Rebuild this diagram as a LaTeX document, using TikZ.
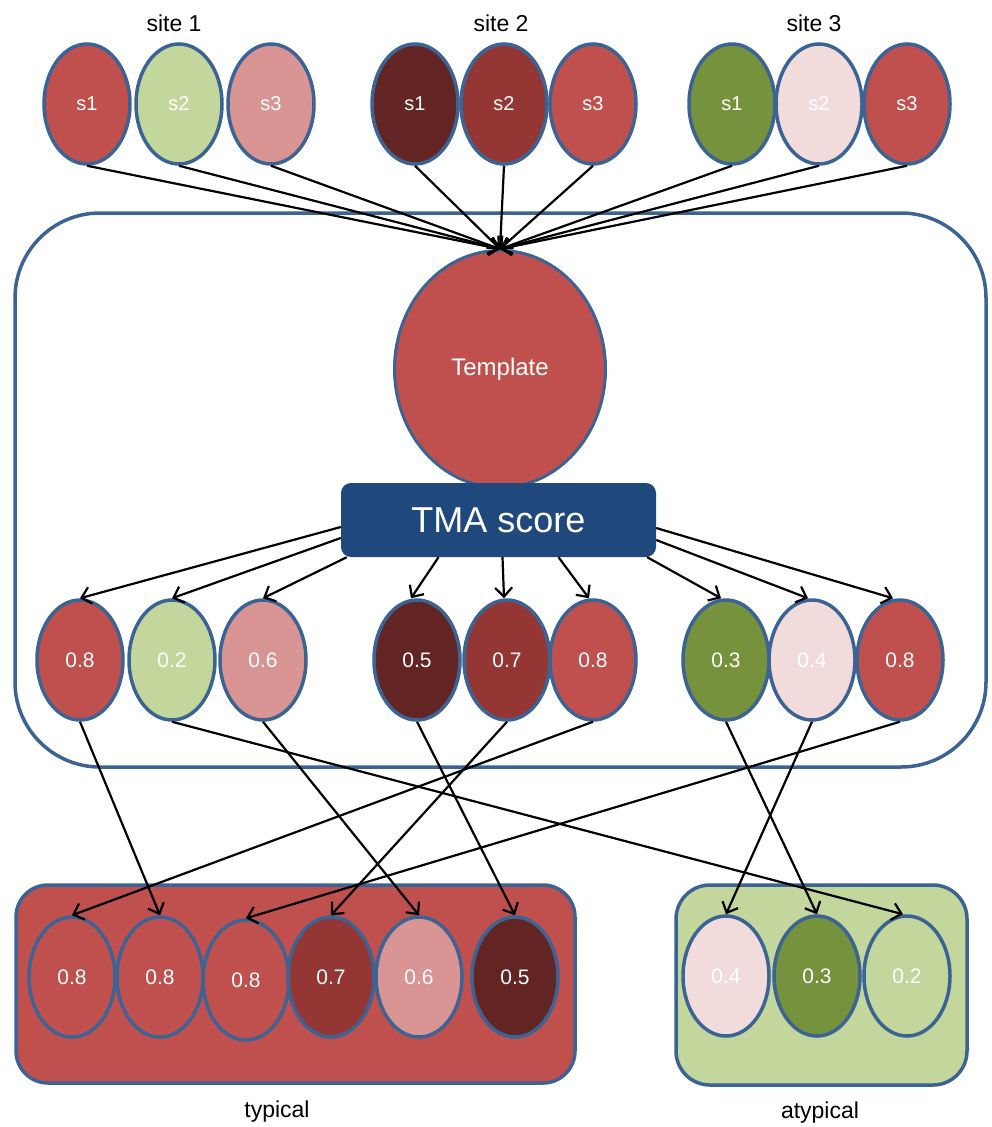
\documentclass[tikz,border=0pt]{standalone}
\usepackage{fontspec}
\setmainfont{Liberation Sans}
\usetikzlibrary{shapes.geometric,arrows.meta,calc}
\definecolor{cRed}{HTML}{C0504D}
\definecolor{cLGreen}{HTML}{C3D69B}
\definecolor{cPink}{HTML}{D99594}
\definecolor{cDRed}{HTML}{632523}
\definecolor{cMRed}{HTML}{943634}
\definecolor{cOlive}{HTML}{76923C}
\definecolor{cLPink}{HTML}{F2DCDB}
\definecolor{cBorder}{HTML}{3B6394}
\definecolor{cNavy}{HTML}{1F497D}
\begin{document}
\begin{tikzpicture}[x=1pt,y=-1pt,
  ell/.style={ellipse, draw=cBorder, line width=3.5pt, minimum width=86pt, minimum height=120pt,
    inner sep=0pt, text=white, font=\fontsize{20}{20}\selectfont},
  num/.style={ell, font=\fontsize{21}{21}\selectfont},
  conn/.style={line width=2.2pt, -{Straight Barb[length=9pt,width=17pt,line width=2.2pt]}},
  group/.style={draw=cBorder, line width=3.5pt},
  lbl/.style={font=\fontsize{23}{23}\selectfont, text=black, inner sep=0pt}
]
\useasboundingbox (0,0) rectangle (992,1127);

% site labels
\node[lbl] (l1) at (174,23) {site 1};
\node[lbl] (l2) at (501,23) {site 2};
\node[lbl] (l3) at (814,23) {site 3};

% big container
\draw[group, rounded corners=85pt] (15,213) rectangle (986,767);

% bottom group boxes
\draw[group, fill=cRed, rounded corners=32pt] (16,885) rectangle (575,1083);
\draw[group, fill=cLGreen, rounded corners=34pt] (676,885) rectangle (967,1085);
\node[lbl] (lt) at (277,1112) {typical};
\node[lbl] (la) at (820,1113) {atypical};

% top ellipses
\node[ell, fill=cRed]    (a1) at (87,104)  {s1};
\node[ell, fill=cLGreen] (a2) at (179,104) {s2};
\node[ell, fill=cPink]   (a3) at (271,104) {s3};
\node[ell, fill=cDRed]   (a4) at (415,104) {s1};
\node[ell, fill=cMRed]   (a5) at (504,104) {s2};
\node[ell, fill=cRed]    (a6) at (593,104) {s3};
\node[ell, fill=cOlive]  (a7) at (732,104) {s1};
\node[ell, fill=cLPink]  (a8) at (819,104) {s2};
\node[ell, fill=cRed]    (a9) at (907,104) {s3};

% template and score box
\node[ellipse, draw=cBorder, line width=3pt, fill=cRed, minimum width=211pt, minimum height=237pt,
  inner sep=0pt, text=white, font=\fontsize{24}{24}\selectfont] (T) at (500,369) {Template};
\node[rectangle, rounded corners=10pt, fill=cNavy, minimum width=315pt, minimum height=74pt,
  inner sep=0pt, text=white, font=\fontsize{36}{36}\selectfont] (S) at (498.5,520) {TMA score};

% middle ellipses
\node[num, fill=cRed]    (m1) at (80,660)  {0.8};
\node[num, fill=cLGreen] (m2) at (172,660) {0.2};
\node[num, fill=cPink]   (m3) at (263,660) {0.6};
\node[num, fill=cDRed]   (m4) at (417,660) {0.5};
\node[num, fill=cMRed]   (m5) at (507,660) {0.7};
\node[num, fill=cRed]    (m6) at (593,660) {0.8};
\node[num, fill=cOlive]  (m7) at (726,660) {0.3};
\node[num, fill=cLPink]  (m8) at (812,660) {0.4};
\node[num, fill=cRed]    (m9) at (900,660) {0.8};

% bottom ellipses
\node[num, fill=cRed]    (b1) at (72,977)  {0.8};
\node[num, fill=cRed]    (b2) at (160,977) {0.8};
\node[num, fill=cRed]    (b3) at (246,980) {0.8};
\node[num, fill=cMRed]   (b4) at (331,977) {0.7};
\node[num, fill=cPink]   (b5) at (419,977) {0.6};
\node[num, fill=cDRed]   (b6) at (515,977) {0.5};
\node[num, fill=cLPink]  (b7) at (726,976) {0.4};
\node[num, fill=cOlive]  (b8) at (817,976) {0.3};
\node[num, fill=cLGreen] (b9) at (907,976) {0.2};

% top arrows to template
\foreach \i in {1,...,9} \draw[conn] (a\i.south) -- (T.north);

% score arrows
\draw[conn] ([yshift=-7pt]S.west) -- (m1.north);
\draw[conn] ([yshift=-18pt]S.west) -- (m2.north);
\draw[conn] ([xshift=6pt]S.south west) -- (m3.north);
\draw[conn] ([xshift=-60pt]S.south) -- ([xshift=-6pt]m4.north);
\draw[conn] ([xshift=4pt]S.south) -- ([xshift=-3pt]m5.north);
\draw[conn] ([xshift=60pt]S.south) -- ([xshift=-4pt]m6.north);
\draw[conn] ([xshift=-9pt]S.south east) -- ([xshift=-5pt]m7.north);
\draw[conn] ([yshift=-20pt]S.east) -- ([xshift=-4pt]m8.north);
\draw[conn] ([yshift=-8pt]S.east) -- ([xshift=-7pt]m9.north);

% classification arrows
\draw[conn] (m1.south) -- (b2.north);
\draw[conn] (m2.south) -- ([xshift=-4pt]b9.north);
\draw[conn] (m3.south) -- (b5.north);
\draw[conn] (m4.south) -- (b6.north);
\draw[conn] (m5.south) -- (b4.north);
\draw[conn] (m6.south) -- (b1.north);
\draw[conn] (m7.south) -- (b8.north);
\draw[conn] (m8.south) -- (b7.north);
\draw[conn] (m9.south) -- (b3.north);
\end{tikzpicture}
\end{document}
